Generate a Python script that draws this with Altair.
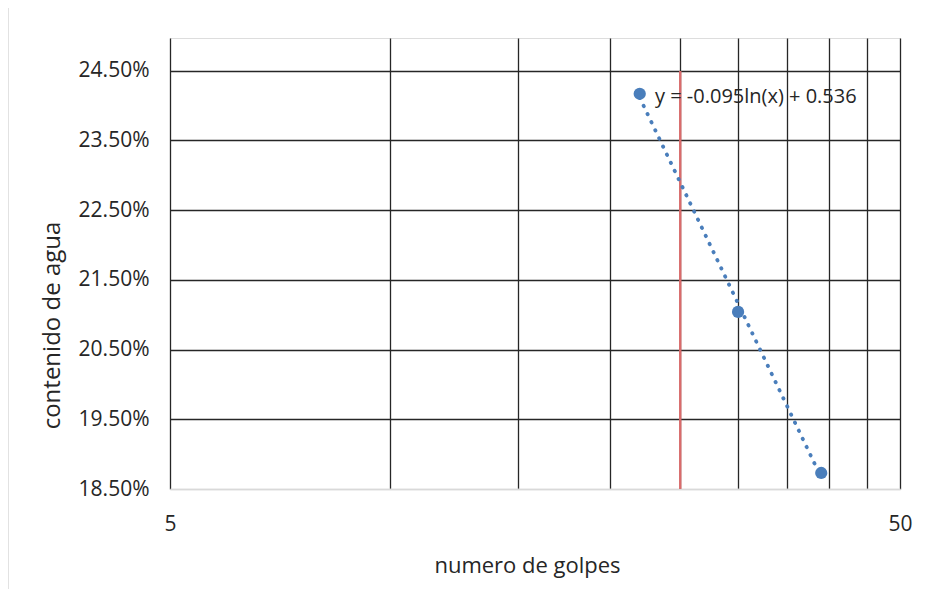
import altair as alt
import pandas as pd

# Data
golpes = [22, 30, 39]
contenido = [0.2417, 0.2104, 0.1873]
limite_golpes = [25]
ecuacion = "y = -0.095ln(x) + 0.536"
x_ticks = [5, 10, 15, 20, 25, 30, 35, 40, 45, 50]
y_ticks = [0.185, 0.195, 0.205, 0.215, 0.225, 0.235, 0.245]

df = pd.DataFrame({"golpes": golpes, "contenido": contenido})
df_red = pd.DataFrame({"golpes": limite_golpes})
df_txt = pd.DataFrame({"t": [ecuacion]})

FONT = "Open Sans"
GRID = "#262626"
BLUE = "#4a7ebb"

xscale = alt.Scale(type="log", domain=[5, 50], nice=False)
yscale = alt.Scale(domain=[0.185, 0.2497], nice=False, zero=False)

xaxis = alt.Axis(
    values=x_ticks,
    labelExpr="(datum.value == 5 || datum.value == 50) ? datum.value : ''",
    labelFlush=False,
    grid=True, gridColor=GRID, gridWidth=1.3,
    domain=True, domainColor="#d9d9d9", domainWidth=1.5,
    ticks=False, labelPadding=24, labelFontSize=21, labelFont=FONT,
    labelColor="#262626",
    title="numero de golpes", titleFont=FONT, titleFontSize=22,
    titleFontWeight="normal", titleColor="#262626",
    titleX=357, titleY=76, titleBaseline="middle",
)
yaxis = alt.Axis(
    values=y_ticks, format=".2%",
    grid=True,
    gridColor={"condition": {"test": "datum.value < 0.1855", "value": "#d9d9d9"}, "value": GRID},
    gridWidth=1.3,
    domain=False, ticks=False, labelPadding=21, labelFontSize=21,
    labelFont=FONT, labelColor="#262626",
    title="contenido de agua", titleFont=FONT, titleFontSize=24,
    titleFontWeight="normal", titleColor="#262626",
    titleX=-118, titleY=287, titleBaseline="middle", titleAngle=-90,
)

base = alt.Chart(df)

border = alt.Chart(df_txt).mark_rect(fill=None, stroke="#d9d9d9", strokeWidth=1.5).encode(
    x=alt.value(-162), x2=alt.value(1000), y=alt.value(-31), y2=alt.value(700)
)

trend = base.transform_regression("golpes", "contenido", method="log").mark_line(
    color=BLUE, strokeWidth=3.8, strokeDash=[0.5, 8.5], strokeCap="round"
).encode(
    x=alt.X("golpes:Q", scale=xscale, axis=xaxis),
    y=alt.Y("contenido:Q", scale=yscale, axis=yaxis),
)

points = base.mark_circle(color=BLUE, size=150, opacity=1).encode(
    x=alt.X("golpes:Q", scale=xscale),
    y=alt.Y("contenido:Q", scale=yscale),
)

red = alt.Chart(df_red).mark_rule(color="#d96b6b", strokeWidth=2.4).encode(
    x=alt.X("golpes:Q", scale=xscale),
    y=alt.value(33), y2=alt.value(451),
)

label = alt.Chart(df_txt).mark_text(
    align="left", baseline="middle", font=FONT, fontSize=20, color="#262626"
).encode(text="t:N", x=alt.value(485), y=alt.value(59))

chart = alt.layer(border, red, trend, points, label).properties(
    width=730, height=451,
    padding={"left": 162, "top": 30, "right": 18, "bottom": 100},
    autosize=alt.AutoSizeParams(type="none"),
).configure_view(stroke=None).configure(background="white")

chart.save("out.html", embed_options={"renderer": "svg", "actions": False})
